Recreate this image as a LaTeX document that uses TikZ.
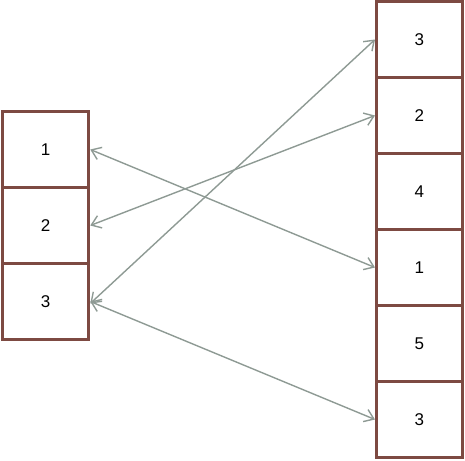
\documentclass[tikz,border=0pt]{standalone}
\usepackage{fontspec}
\setmainfont{Liberation Sans}
\usetikzlibrary{arrows.meta}
\definecolor{boxbrown}{HTML}{7D4A42}
\definecolor{arrgray}{HTML}{8E9A94}
\begin{document}
\begin{tikzpicture}[x=1pt,y=-1pt,
  cell/.style={draw=boxbrown,line width=3pt,fill=white,minimum width=86.5pt,minimum height=76pt,inner sep=0pt,outer sep=0pt,font=\fontsize{17}{20}\selectfont},
  link/.style={draw=arrgray,line width=1.4pt,{Straight Barb[length=9pt,width=13pt]}-{Straight Barb[length=9pt,width=13pt]}}]
\useasboundingbox (0,0) rectangle (465,460);
\node[cell] (L1) at (45.5,149.5) {1};
\node[cell] (L2) at (45.5,225.5) {2};
\node[cell] (L3) at (45.5,301.5) {3};
\node[cell,minimum width=85.5pt] (R1) at (419.25,39.5) {3};
\node[cell,minimum width=85.5pt] (R2) at (419.25,115.5) {2};
\node[cell,minimum width=85.5pt] (R3) at (419.25,191.5) {4};
\node[cell,minimum width=85.5pt] (R4) at (419.25,267.5) {1};
\node[cell,minimum width=85.5pt] (R5) at (419.25,343.5) {5};
\node[cell,minimum width=85.5pt] (R6) at (419.25,419.5) {3};
\draw[link] ([xshift=1.5pt]L1.east) -- ([xshift=-1.5pt]R4.west);
\draw[link] ([xshift=1.5pt]L2.east) -- ([xshift=-1.5pt]R2.west);
\draw[link] ([xshift=1.5pt,yshift=-2pt]L3.east) -- ([xshift=-1.5pt]R1.west);
\draw[link] ([xshift=1.5pt]L3.east) -- ([xshift=-1.5pt]R6.west);
\end{tikzpicture}
\end{document}
